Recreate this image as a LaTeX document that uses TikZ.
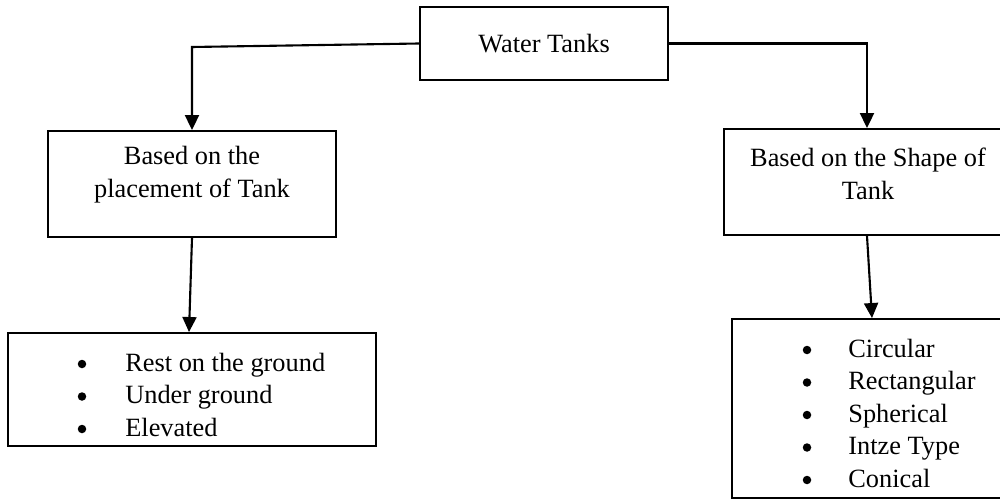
\documentclass[tikz,border=0pt]{standalone}
\usepackage{fontspec}
\setmainfont{Liberation Serif}
\usetikzlibrary{arrows.meta}
\begin{document}
\begin{tikzpicture}[x=0.02cm,y=-0.02cm,
  font=\fontsize{15}{18.7}\selectfont,
  box/.style={draw,line width=1.1pt,inner sep=0pt,anchor=center},
  lbl/.style={align=center,inner sep=0pt},
  itm/.style={anchor=base west,inner sep=0pt},
  bul/.style={circle,fill=black,inner sep=0pt,minimum size=0.17cm},
  arr/.style={line width=1.2pt,-{Triangle[width=0.28cm,length=0.3cm]}},
  conn/.style={line width=1.2pt}]
\useasboundingbox (0,0) rectangle (1000,500);
% boxes
\node[box,minimum width=4.96cm,minimum height=1.46cm] (wt) at (544,43.5) {Water Tanks};
\node[box,minimum width=5.76cm,minimum height=2.12cm] (lb) at (192,184) {};
\node[box,minimum width=5.74cm,minimum height=2.12cm] (rb) at (867,182) {};
\node[box,minimum width=7.36cm,minimum height=2.26cm] (ll) at (192,389.5) {};
\node[box,minimum width=5.56cm,minimum height=3.58cm] (rl) at (871,408.5) {};
% labels
\node[lbl] (lbt) at (192,175) {Based on the\\placement of Tank};
\node[lbl] (rbt) at (868,173.5) {Based on the Shape of\\Tank};
% lists
\foreach \t [count=\i] in {Rest on the ground,Under ground,Elevated}{
  \node[bul] (lbb\i) at (82,{364+32.5*(\i-1)}) {};
  \node[itm] (lbi\i) at (125,{371+32.5*(\i-1)}) {\t};
}
\foreach \t [count=\i] in {Circular,Rectangular,Spherical,Intze Type,Conical}{
  \node[bul] (rbb\i) at (807,{350+32.5*(\i-1)}) {};
  \node[itm] (rbi\i) at (848,{357+32.5*(\i-1)}) {\t};
}
% connectors
\coordinate (c1) at (192,47);
\coordinate (c2) at (867,43.5);
\draw[arr] (wt.west) -- (c1) -- (lb.north);
\draw[arr] (wt.east) -- (c2) -- (rb.north);
\draw[arr] (lb.south) -- ([xshift=-0.06cm]ll.north);
\draw[arr] (rb.south) -- ([xshift=0.02cm]rl.north);
\end{tikzpicture}
\end{document}
